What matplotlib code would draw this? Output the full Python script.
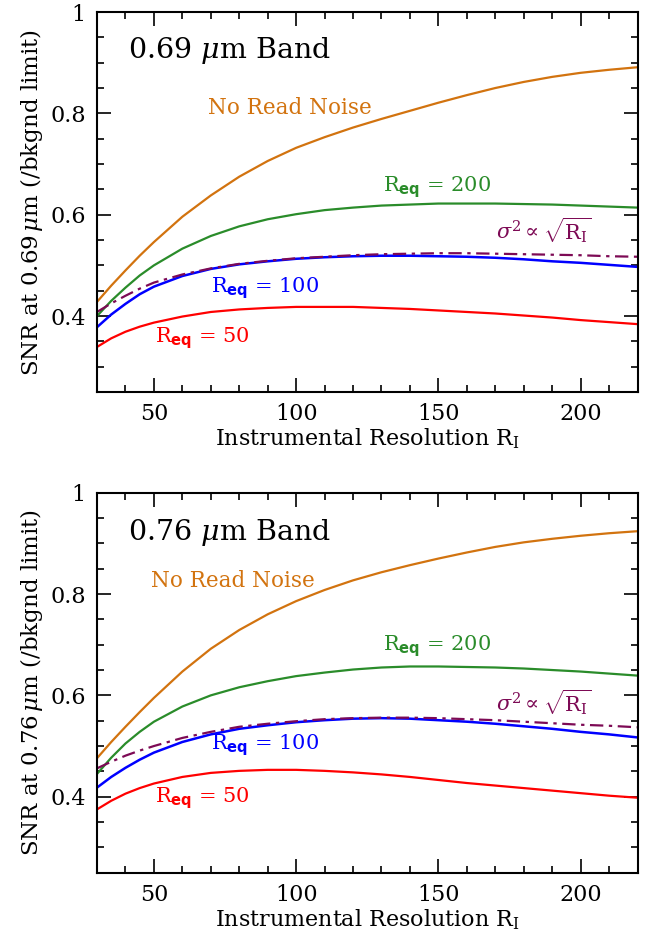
import matplotlib
matplotlib.use('Agg')
import matplotlib.pyplot as plt
from matplotlib.ticker import MultipleLocator
import numpy as np

plt.rcParams['font.family'] = ['DejaVu Serif']
plt.rcParams['mathtext.fontset'] = 'custom'
plt.rcParams['mathtext.rm'] = 'DejaVu Serif'
plt.rcParams['mathtext.it'] = 'DejaVu Serif:italic'
plt.rcParams['mathtext.bf'] = 'DejaVu Sans:bold'

# instrumental resolution R_I
res = [30, 35, 40, 45, 50, 60, 70, 80, 90, 100, 110, 120, 130, 140, 150, 160, 170, 180, 190, 200, 210, 220]

# 0.69 um band
top_noread = [0.428, 0.46, 0.49, 0.519, 0.546, 0.596, 0.638, 0.675, 0.706, 0.732, 0.753, 0.772, 0.789, 0.805, 0.821, 0.836, 0.85, 0.862, 0.872, 0.88, 0.886, 0.891]
top_r200 = [0.40, 0.43, 0.456, 0.48, 0.50, 0.533, 0.558, 0.577, 0.591, 0.601, 0.609, 0.614, 0.618, 0.62, 0.622, 0.622, 0.622, 0.621, 0.62, 0.618, 0.616, 0.614]
top_sqrt = [0.408, 0.425, 0.44, 0.454, 0.466, 0.482, 0.494, 0.503, 0.509, 0.514, 0.517, 0.52, 0.522, 0.523, 0.524, 0.524, 0.523, 0.522, 0.521, 0.52, 0.518, 0.517]
top_r100 = [0.378, 0.403, 0.424, 0.443, 0.458, 0.479, 0.493, 0.502, 0.508, 0.513, 0.516, 0.518, 0.519, 0.519, 0.518, 0.517, 0.515, 0.512, 0.508, 0.505, 0.501, 0.497]
top_r50 = [0.339, 0.356, 0.369, 0.379, 0.387, 0.399, 0.408, 0.413, 0.416, 0.418, 0.418, 0.418, 0.416, 0.414, 0.411, 0.408, 0.405, 0.401, 0.397, 0.392, 0.388, 0.384]

# 0.76 um band
bot_noread = [0.476, 0.508, 0.538, 0.567, 0.595, 0.647, 0.692, 0.729, 0.76, 0.786, 0.808, 0.827, 0.843, 0.857, 0.87, 0.882, 0.893, 0.902, 0.909, 0.915, 0.92, 0.924]
bot_r200 = [0.445, 0.477, 0.505, 0.528, 0.548, 0.578, 0.60, 0.616, 0.628, 0.638, 0.645, 0.651, 0.655, 0.657, 0.657, 0.656, 0.655, 0.653, 0.65, 0.647, 0.643, 0.639]
bot_sqrt = [0.456, 0.469, 0.481, 0.491, 0.50, 0.516, 0.528, 0.538, 0.544, 0.549, 0.553, 0.555, 0.556, 0.556, 0.555, 0.553, 0.551, 0.548, 0.545, 0.542, 0.54, 0.537]
bot_r100 = [0.418, 0.439, 0.457, 0.473, 0.487, 0.508, 0.523, 0.534, 0.541, 0.547, 0.551, 0.554, 0.555, 0.554, 0.551, 0.548, 0.544, 0.539, 0.534, 0.528, 0.523, 0.517]
bot_r50 = [0.375, 0.392, 0.406, 0.417, 0.426, 0.439, 0.447, 0.451, 0.453, 0.453, 0.451, 0.448, 0.444, 0.439, 0.433, 0.427, 0.422, 0.417, 0.412, 0.407, 0.402, 0.398]

c_orange = '#d2730f'
c_green = '#2a8c2a'
c_blue = '#0000ff'
c_red = '#ff0000'
c_purple = '#7d0a55'


def panel(ax, band, noread, r200, sqrtr, r100, r50, pos):
    ax.plot(res, noread, color=c_orange, lw=1.6)
    ax.plot(res, r200, color=c_green, lw=1.6)
    ax.plot(res, r100, color=c_blue, lw=1.8)
    ax.plot(res, r50, color=c_red, lw=1.6)
    ax.plot(res, sqrtr, color=c_purple, lw=1.6, ls=(0, (6, 2.5, 1.5, 2.5)))
    ax.set_xlim(30, 220)
    ax.set_ylim(0.25, 1.0)
    ax.xaxis.set_major_locator(MultipleLocator(50))
    ax.xaxis.set_minor_locator(MultipleLocator(10))
    ax.yaxis.set_major_locator(MultipleLocator(0.2))
    ax.yaxis.set_minor_locator(MultipleLocator(0.05))
    ax.yaxis.set_major_formatter(plt.FuncFormatter(lambda v, p: '1' if abs(v - 1) < 1e-6 else '%.1f' % v))
    ax.tick_params(which='both', direction='in', top=True, right=True, width=1.2, labelsize=16)
    ax.tick_params(which='major', length=10, pad=8)
    ax.tick_params(which='minor', length=5)
    for s in ax.spines.values():
        s.set_linewidth(1.5)
    ax.set_xlabel(r'Instrumental Resolution R$_\mathrm{I}$', fontsize=16, labelpad=1)
    ax.set_ylabel(r'SNR at %s$\,\mu$m (/bkgnd limit)' % band, fontsize=16.5, labelpad=4)
    ax.text(41.0, pos['title'], r'%s $\mu$m Band' % band, fontsize=20.5, va='center')
    ax.text(pos['nr'][0], pos['nr'][1], 'No Read Noise', color=c_orange, fontsize=15.5, va='center')
    ax.text(130.5, pos['r200'], r'R$_{\mathbf{eq}}$ = 200', color=c_green, fontsize=15, va='center')
    ax.text(170.2, pos['sq'], r'$\sigma^2 \propto \sqrt{\mathrm{R}_\mathrm{I}}$', color=c_purple, fontsize=15, va='center')
    ax.text(70.2, pos['r100'], r'R$_{\mathbf{eq}}$ = 100', color=c_blue, fontsize=15, va='center')
    ax.text(50.5, pos['r50'], r'R$_{\mathbf{eq}}$ = 50', color=c_red, fontsize=15, va='center')


fig = plt.figure(figsize=(6.52, 9.39), dpi=100)
ax1 = fig.add_axes([0.1488, 0.5825, 0.829, 0.4047])
ax2 = fig.add_axes([0.1488, 0.0706, 0.829, 0.4047])

panel(ax1, '0.69', top_noread, top_r200, top_sqrt, top_r100, top_r50,
      {'title': 0.925, 'nr': (69.1, 0.81), 'r200': 0.655, 'sq': 0.57, 'r100': 0.455, 'r50': 0.357})
panel(ax2, '0.76', bot_noread, bot_r200, bot_sqrt, bot_r100, bot_r50,
      {'title': 0.922, 'nr': (49.1, 0.826), 'r200': 0.697, 'sq': 0.587, 'r100': 0.502, 'r50': 0.397})

fig.savefig('out.png', dpi=100)
